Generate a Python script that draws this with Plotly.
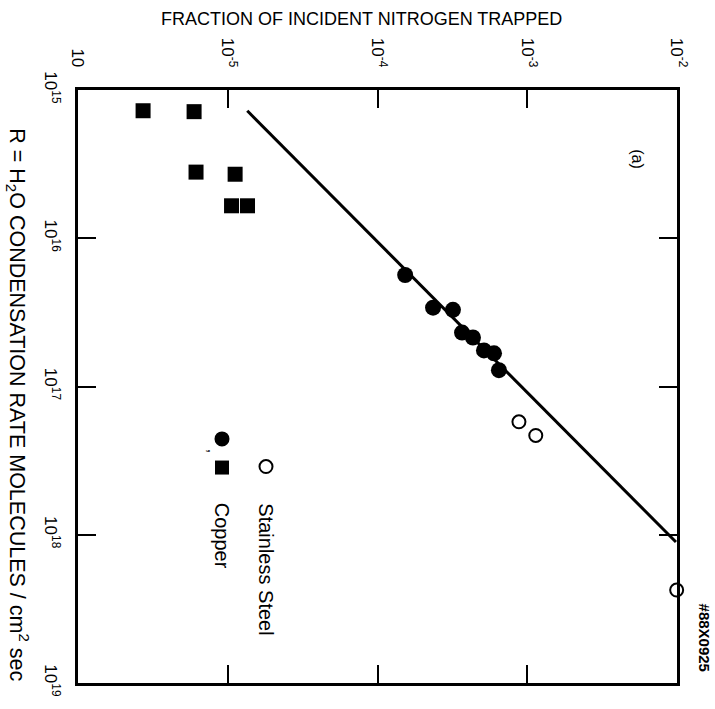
import plotly.graph_objects as go

# ---- data ----
# Copper, filled squares
cu_sq_R = [1.38e15, 1.40e15, 3.58e15, 3.70e15, 6.04e15, 6.04e15]
cu_sq_frac = [2.72e-6, 5.96e-6, 6.14e-6, 1.12e-5, 1.06e-5, 1.355e-5]
# Copper, filled circles
cu_ci_R = [1.77e16, 2.94e16, 3.04e16, 4.33e16, 4.67e16, 5.71e16, 5.97e16, 7.76e16]
cu_ci_frac = [1.53e-4, 2.35e-4, 3.19e-4, 3.67e-4, 4.34e-4, 5.14e-4, 6.0e-4, 6.47e-4]
# Stainless steel, open circles
ss_R = [1.73e17, 2.14e17, 2.36e18]
ss_frac = [8.8e-4, 1.14e-3, 9.95e-3]
# Fitted line
fit_R = [1.38e15, 1.12e18]
fit_frac = [1.35e-5, 9.84e-3]

frac_ticks = [1e-6, 1e-5, 1e-4, 1e-3, 1e-2]
frac_ticktext = ["10", "10<sup>-5</sup>", "10<sup>-4</sup>", "10<sup>-3</sup>", "10<sup>-2</sup>"]
R_ticks = [1e15, 1e16, 1e17, 1e18, 1e19]
R_ticktext = ["10<sup>15</sup>", "10<sup>16</sup>", "10<sup>17</sup>", "10<sup>18</sup>", "10<sup>19</sup>"]

FONT = "Liberation Sans, Arial, sans-serif"

fig = go.Figure()
fig.add_trace(go.Scatter(x=fit_frac, y=fit_R, mode="lines",
                         line=dict(color="black", width=3), hoverinfo="skip"))
fig.add_trace(go.Scatter(x=cu_sq_frac, y=cu_sq_R, mode="markers",
                         marker=dict(symbol="square", size=15, color="black")))
fig.add_trace(go.Scatter(x=cu_ci_frac, y=cu_ci_R, mode="markers",
                         marker=dict(symbol="circle", size=16, color="black")))
fig.add_trace(go.Scatter(x=ss_frac, y=ss_R, mode="markers", cliponaxis=False,
                         marker=dict(symbol="circle", size=13, color="white",
                                     line=dict(color="black", width=2))))

fig.update_xaxes(type="log", range=[-6, -2], side="top",
                 tickvals=frac_ticks, ticktext=frac_ticktext, tickangle=90,
                 ticks="inside", ticklen=18, tickwidth=1.5, tickcolor="black",
                 showline=True, linecolor="black", linewidth=2.5, mirror="ticks",
                 showgrid=False, zeroline=False, ticklabelstandoff=14,
                 tickfont=dict(family=FONT, size=17, color="black"))
fig.update_yaxes(type="log", range=[19, 15],
                 tickvals=R_ticks, ticktext=R_ticktext, tickangle=90,
                 ticks="inside", ticklen=18, tickwidth=1.5, tickcolor="black",
                 showline=True, linecolor="black", linewidth=2.5, mirror="ticks",
                 showgrid=False, zeroline=False, ticklabelstandoff=10,
                 tickfont=dict(family=FONT, size=17, color="black"))

L, R, T, B = 78, 38, 90, 19
W, H = 715, 709
PW, PH = W - L - R, H - T - B

def px(x):
    return (x - L) / PW

def py(y):
    return 1 - (y - T) / PH

ann = []
ann.append(dict(text="FRACTION OF INCIDENT NITROGEN TRAPPED", x=px(361), y=py(18),
                xref="paper", yref="paper", showarrow=False, xanchor="center", yanchor="middle",
                font=dict(family=FONT, size=18, color="black")))
ann.append(dict(text="R = H<sub>2</sub>O CONDENSATION RATE MOLECULES / cm<sup>2</sup> sec",
                x=px(18), y=py(408), xref="paper", yref="paper", showarrow=False,
                textangle=90, xanchor="center", yanchor="middle",
                font=dict(family=FONT, size=21.5, color="black")))
ann.append(dict(text="(a)", x=px(638), y=py(160), xref="paper", yref="paper", showarrow=False,
                textangle=90, xanchor="center", yanchor="middle",
                font=dict(family=FONT, size=16, color="black")))
ann.append(dict(text="<b>#88X0925</b>", x=px(704), y=py(644), xref="paper", yref="paper", showarrow=False,
                textangle=90, xanchor="center", yanchor="middle",
                font=dict(family=FONT, size=15, color="black")))
ann.append(dict(text="Stainless Steel", x=px(266), y=py(575), xref="paper", yref="paper", showarrow=False,
                textangle=90, xanchor="center", yanchor="middle",
                font=dict(family=FONT, size=20, color="black")))
ann.append(dict(text="Copper", x=px(222), y=py(541), xref="paper", yref="paper", showarrow=False,
                textangle=90, xanchor="center", yanchor="middle",
                font=dict(family=FONT, size=20, color="black")))
ann.append(dict(text=",", x=px(213), y=py(455), xref="paper", yref="paper", showarrow=False,
                textangle=90, xanchor="center", yanchor="middle",
                font=dict(family=FONT, size=16, color="black")))

shapes = []
def legend_symbol(kind, cx, cy, d, fill, lw=0):
    shapes.append(dict(type=kind, xref="paper", yref="paper",
                       xsizemode="pixel", ysizemode="pixel",
                       xanchor=px(cx), yanchor=py(cy),
                       x0=-d / 2, x1=d / 2, y0=-d / 2, y1=d / 2,
                       fillcolor=fill, line=dict(color="black", width=lw)))

legend_symbol("circle", 222, 443, 15, "black")
legend_symbol("rect", 222, 472, 14, "black")
legend_symbol("circle", 266, 471, 13, "white", 2)

fig.update_layout(width=W, height=H, margin=dict(l=L, r=R, t=T, b=B),
                  plot_bgcolor="white", paper_bgcolor="white", showlegend=False,
                  annotations=ann, shapes=shapes)

fig.write_html("out.html")
